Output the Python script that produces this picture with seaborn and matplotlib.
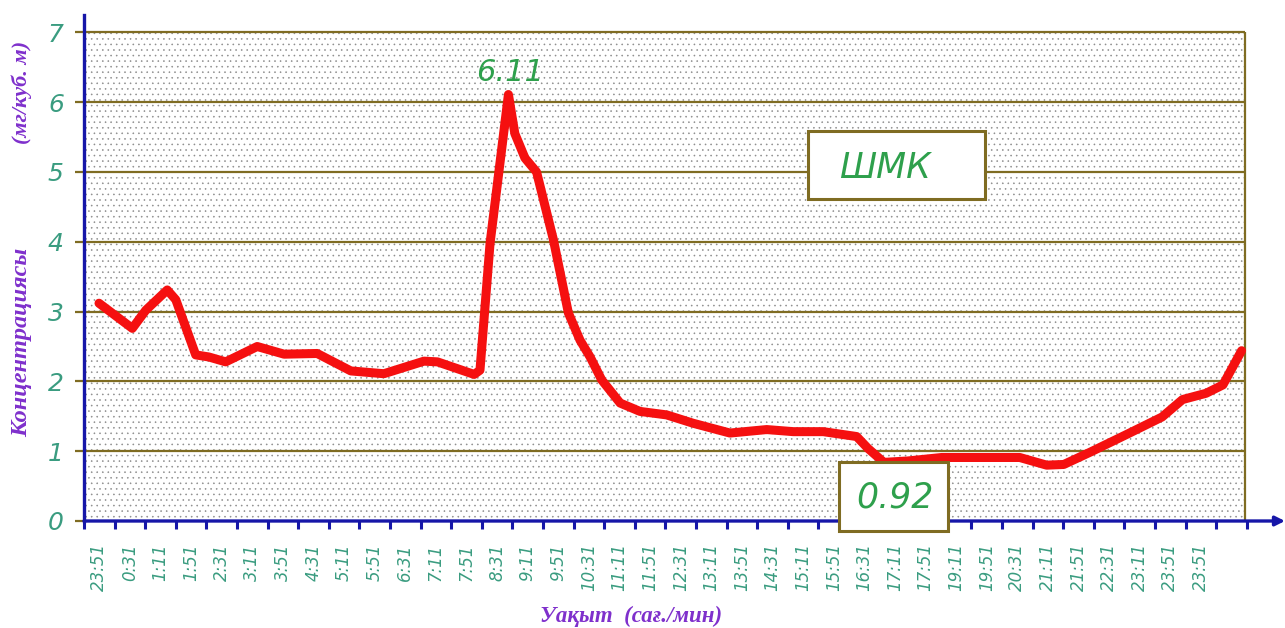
import matplotlib
matplotlib.use("Agg")
import matplotlib.pyplot as plt
from matplotlib.patches import Rectangle
import seaborn as sns
import pandas as pd

# ---- data ----
time_labels = ["23:51", "0:31", "1:11", "1:51", "2:31", "3:11", "3:51", "4:31", "5:11",
               "5:51", "6:31", "7:11", "7:51", "8:31", "9:11", "9:51", "10:31", "11:11",
               "11:51", "12:31", "13:11", "13:51", "14:31", "15:11", "15:51", "16:31",
               "17:11", "17:51", "19:11", "19:51", "20:31", "21:11", "21:51", "22:31",
               "23:11", "23:51", "23:51"]
# positions along the time axis (in tick intervals) and concentrations
pos = [0.49, 1.58, 2.02, 2.72, 3.00, 3.65, 4.08, 4.63, 5.66, 6.54, 7.62, 8.72, 9.80,
       11.11, 11.55, 12.75, 12.94, 13.27, 13.87, 14.08, 14.41, 14.79, 15.34, 15.83,
       16.21, 16.54, 16.92, 17.52, 18.17, 19.04, 19.91, 21.11, 22.31, 23.18, 24.16,
       25.25, 25.62, 26.14, 26.92, 28.03, 29.14, 30.58, 31.46, 32.02, 32.90, 34.12,
       35.23, 35.90, 36.67, 37.22, 37.83]
conc = [3.12, 2.76, 3.02, 3.31, 3.17, 2.38, 2.35, 2.28, 2.50, 2.39, 2.40, 2.15, 2.11,
        2.29, 2.28, 2.10, 2.16, 3.98, 6.11, 5.55, 5.20, 5.00, 4.03, 2.98,
        2.59, 2.35, 2.02, 1.69, 1.57, 1.52, 1.40, 1.26, 1.31, 1.28, 1.28,
        1.21, 1.04, 0.84, 0.86, 0.91, 0.91, 0.91, 0.80, 0.81, 0.99, 1.25,
        1.49, 1.74, 1.83, 1.95, 2.44]
y_ticks = [0, 1, 2, 3, 4, 5, 6, 7]
peak_label = "6.11"
min_label = "0.92"
station = "ШМК"

# ---- styles ----
BLUE = "#1616a8"
OLIVE = "#7f6c22"
RED = "#f51010"
TEAL = "#3a9c80"
GREEN = "#2ea04c"
PURPLE = "#7f30cc"
NARROW = ["Liberation Sans Narrow", "DejaVu Sans"]
SERIF = ["Liberation Serif", "DejaVu Serif"]

sns.set_theme(style="white")
plt.rcParams["font.family"] = ["DejaVu Sans"]
plt.rcParams["hatch.linewidth"] = 0.4

W, H = 1285, 628
fig = plt.figure(figsize=(W / 100, H / 100), dpi=100)
ax = fig.add_axes([84 / W, (H - 521) / H, (W - 84) / W, (521 - 15) / H])
ax.set_xlim(0, (W - 84) / 30.6)
ax.set_ylim(0, (521 - 15) / 69.8)
XMAX = 37.94

# stippled plot area
ax.add_patch(Rectangle((0, 0), XMAX, 7, facecolor="white", edgecolor="#8c8c8c",
                       hatch="...", linewidth=0, zorder=0))
# gridlines and right border
ax.hlines(y_ticks[1:], 0, XMAX, colors=OLIVE, linewidth=1.6, zorder=1)
ax.vlines([XMAX], 0, 7, colors=OLIVE, linewidth=1.6, zorder=1)

df = pd.DataFrame({"pos": pos, "conc": conc})
sns.lineplot(data=df, x="pos", y="conc", ax=ax, color=RED, linewidth=6.5,
             sort=False, zorder=3, solid_capstyle="round", solid_joinstyle="round")

# spines / axes
for s in ["top", "right", "bottom"]:
    ax.spines[s].set_visible(False)
ax.spines["left"].set_color(BLUE)
ax.spines["left"].set_linewidth(2.4)
ax.spines["left"].set_zorder(4)
ax.annotate("", xy=(1.0, 0), xytext=(0, 0), xycoords="axes fraction",
            textcoords="axes fraction", annotation_clip=False,
            arrowprops=dict(arrowstyle="-|>", color=BLUE, lw=2.4, mutation_scale=14,
                            shrinkA=0, shrinkB=0), zorder=4)

ax.set_yticks(y_ticks)
ax.set_yticklabels([str(v) for v in y_ticks])
ax.tick_params(axis="y", length=6.5, width=1.6, color=OLIVE, pad=8,
               labelsize=18, labelcolor=TEAL, left=True)
for t in ax.get_yticklabels():
    t.set_fontstyle("italic")
    t.set_family(NARROW)

ax.set_xticks(range(0, 39))
ax.set_xticklabels([])
ax.set_xticks([0.5 + i for i in range(len(time_labels))], minor=True)
ax.set_xticklabels(time_labels, minor=True, rotation=90)
ax.tick_params(axis="x", which="major", length=6, width=2.2, color=BLUE, bottom=True)
ax.tick_params(axis="x", which="minor", length=0, pad=16, labelsize=12,
               labelcolor=TEAL, bottom=True)
for t in ax.get_xticklabels(minor=True):
    t.set_fontstyle("italic")
    t.set_family(NARROW)
ax.set_xlabel("")
ax.set_ylabel("")

# annotations
ax.text(13.92, 6.43, peak_label, color=GREEN, fontsize=22, fontstyle="italic",
        family=NARROW, ha="center", va="center", zorder=5)
ax.add_patch(Rectangle((23.66, 4.61), 29.44 - 23.66, 5.59 - 4.61, facecolor="white",
                       edgecolor=OLIVE, linewidth=2.2, zorder=5))
ax.text(26.18, 5.06, station, color=GREEN, fontsize=25, fontstyle="italic",
        family=NARROW, ha="center", va="center", zorder=6)
ax.add_patch(Rectangle((24.67, -0.14), 28.24 - 24.67, 0.845 + 0.14, facecolor="white",
                       edgecolor=OLIVE, linewidth=2.2, zorder=5, clip_on=False))
ax.text(26.5, 0.33, min_label, color=GREEN, fontsize=25, fontstyle="italic",
        family=NARROW, ha="center", va="center", zorder=6, clip_on=False)

# axis titles
fig.text(22 / W, 1 - 92 / H, "(мг/куб. м)", rotation=90, ha="center", va="center",
         color=PURPLE, fontsize=16, fontweight="bold", fontstyle="italic", family=SERIF)
fig.text(22 / W, 1 - 342 / H, "Концентрациясы", rotation=90, ha="center", va="center",
         color=PURPLE, fontsize=17.5, fontweight="bold", fontstyle="italic", family=SERIF)
fig.text(631 / W, 1 - 616 / H, "Уақыт  (сағ./мин)", ha="center", va="center",
         color=PURPLE, fontsize=16.5, fontweight="bold", fontstyle="italic", family=SERIF)

fig.savefig("out.png", dpi=100)
